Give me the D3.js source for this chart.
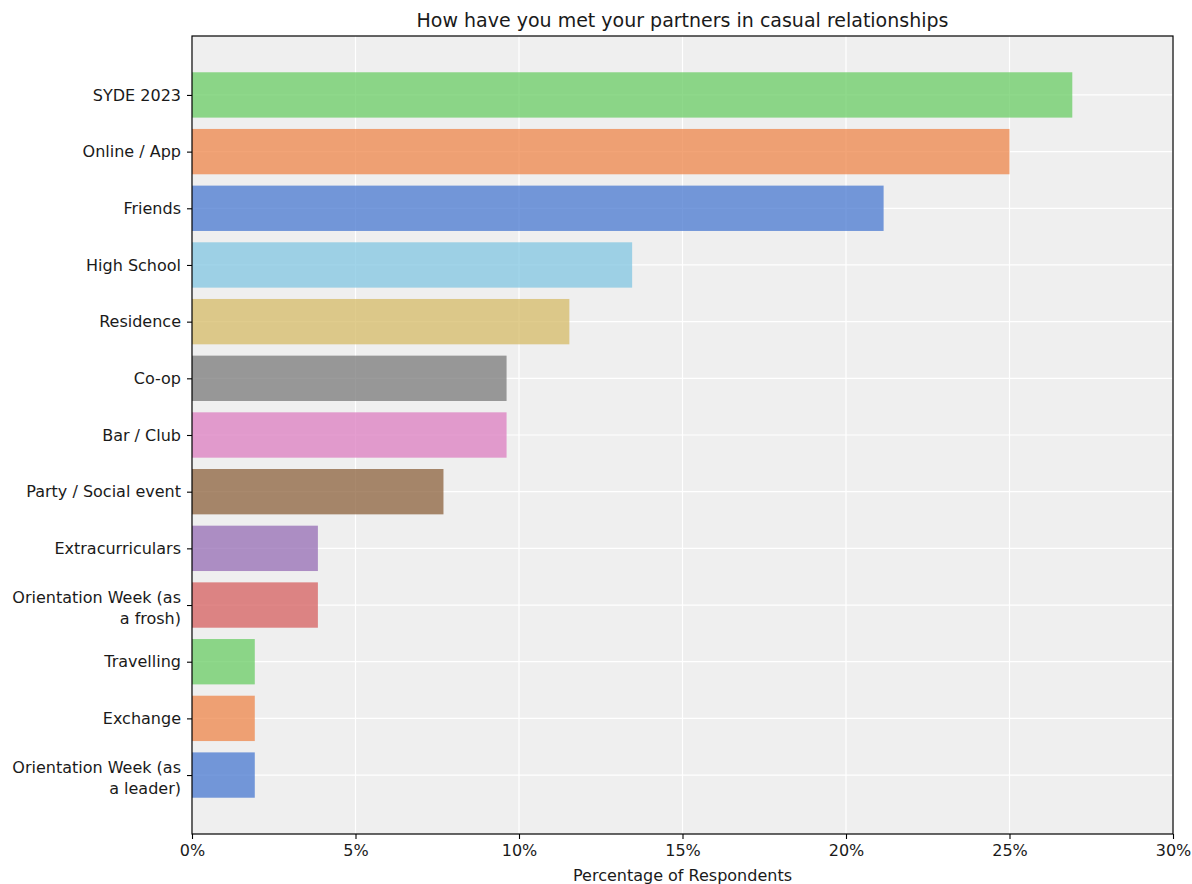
<!DOCTYPE html>
<html>
<head>
<meta charset="utf-8">
<script src="https://cdn.jsdelivr.net/npm/d3@7"></script>
<style>
  html, body { margin: 0; padding: 0; background: #ffffff; }
  text { font-family: "DejaVu Sans", sans-serif; fill: #1a1a1a; }
</style>
</head>
<body>
<svg id="chart" width="1192" height="884"></svg>
<script>
// ---- data (top to bottom) ----
const categories = [
  "SYDE 2023",
  "Online / App",
  "Friends",
  "High School",
  "Residence",
  "Co-op",
  "Bar / Club",
  "Party / Social event",
  "Extracurriculars",
  "Orientation Week (as a frosh)",
  "Travelling",
  "Exchange",
  "Orientation Week (as a leader)"
];
const values = [26.92, 25.0, 21.15, 13.46, 11.54, 9.62, 9.62, 7.69, 3.85, 3.85, 1.92, 1.92, 1.92];
const xTicks = [0, 5, 10, 15, 20, 25, 30];
const title = "How have you met your partners in casual relationships";
const xLabel = "Percentage of Respondents";

// seaborn "muted" palette, assigned from the bottom bar upward
const palette = ["#4878D0", "#EE854A", "#6ACC64", "#D65F5F", "#956CB4",
                 "#8C613C", "#DC7EC0", "#797979", "#D5BB67", "#82C6E2"];

// ---- layout ----
const W = 1192, H = 884;
const plot = { left: 192, right: 1173, top: 36, bottom: 834 };
const n = categories.length;

const svg = d3.select("#chart");

const x = d3.scaleLinear().domain([0, 30]).range([plot.left, plot.right]);
// bars positioned at index 0 (bottom) .. n-1 (top); matplotlib-like margins
const barH = 0.8;
const lo = -barH / 2, hi = (n - 1) + barH / 2;
const pad = (hi - lo) * 0.05;
const y = d3.scaleLinear().domain([lo - pad, hi + pad]).range([plot.bottom, plot.top]);

const data = categories.map((c, i) => ({ cat: c, val: values[i], pos: n - 1 - i }));

// background
svg.append("rect")
  .attr("x", plot.left).attr("y", plot.top)
  .attr("width", plot.right - plot.left).attr("height", plot.bottom - plot.top)
  .attr("fill", "#efefef");

// grid
const grid = svg.append("g");
grid.selectAll("line.vx").data(xTicks).join("line")
  .attr("x1", d => x(d)).attr("x2", d => x(d))
  .attr("y1", plot.top).attr("y2", plot.bottom)
  .attr("stroke", "#ffffff").attr("stroke-width", 1.2);
grid.selectAll("line.hy").data(data).join("line")
  .attr("x1", plot.left).attr("x2", plot.right)
  .attr("y1", d => y(d.pos)).attr("y2", d => y(d.pos))
  .attr("stroke", "#ffffff").attr("stroke-width", 1.2);

// bars
svg.append("g").selectAll("rect").data(data).join("rect")
  .attr("x", x(0))
  .attr("y", d => y(d.pos + barH / 2))
  .attr("width", d => x(d.val) - x(0))
  .attr("height", d => y(d.pos - barH / 2) - y(d.pos + barH / 2))
  .attr("fill", d => palette[d.pos % palette.length])
  .attr("fill-opacity", 0.75);

// x axis
const xAxis = d3.axisBottom(x).tickValues(xTicks).tickFormat(d => d + "%")
  .tickSize(5).tickPadding(6);
const gx = svg.append("g").attr("transform", `translate(0,${plot.bottom})`).call(xAxis);
gx.select(".domain").remove();
gx.selectAll(".tick line").attr("stroke", "#000").attr("stroke-width", 1.1);
gx.selectAll(".tick text").attr("font-size", "16px").attr("font-family", "DejaVu Sans").attr("fill", "#1a1a1a");

// y axis (custom wrapped labels)
const yAxis = d3.axisLeft(y).tickValues(data.map(d => d.pos)).tickFormat("").tickSize(5);
const gy = svg.append("g").attr("transform", `translate(${plot.left},0)`).call(yAxis);
gy.select(".domain").remove();
gy.selectAll(".tick line").attr("stroke", "#000").attr("stroke-width", 1.1);

function wrapLabel(s) {
  const m = s.match(/^(Orientation Week \(as) (.*)$/);
  return m ? [m[1], m[2]] : [s];
}
const lineH = 21;
const labels = svg.append("g");
data.forEach(d => {
  const lines = wrapLabel(d.cat);
  const shift = lines.length > 1 ? 2.5 : 0;
  const t = labels.append("text")
    .attr("text-anchor", "end")
    .attr("font-size", "16px")
    .attr("x", plot.left - 11)
    .attr("y", y(d.pos));
  lines.forEach((ln, k) => {
    t.append("tspan")
      .attr("x", plot.left - 11)
      .attr("y", y(d.pos) + shift + (k - (lines.length - 1) / 2) * lineH)
      .attr("dy", "0.35em")
      .text(ln);
  });
});

// frame
svg.append("rect")
  .attr("x", plot.left).attr("y", plot.top)
  .attr("width", plot.right - plot.left).attr("height", plot.bottom - plot.top)
  .attr("fill", "none").attr("stroke", "#000").attr("stroke-width", 1.2);

// title & x label
svg.append("text")
  .attr("x", (plot.left + plot.right) / 2).attr("y", 27)
  .attr("text-anchor", "middle").attr("font-size", "19px")
  .text(title);
svg.append("text")
  .attr("x", (plot.left + plot.right) / 2).attr("y", 881)
  .attr("text-anchor", "middle").attr("font-size", "16px")
  .text(xLabel);
</script>
</body>
</html>
